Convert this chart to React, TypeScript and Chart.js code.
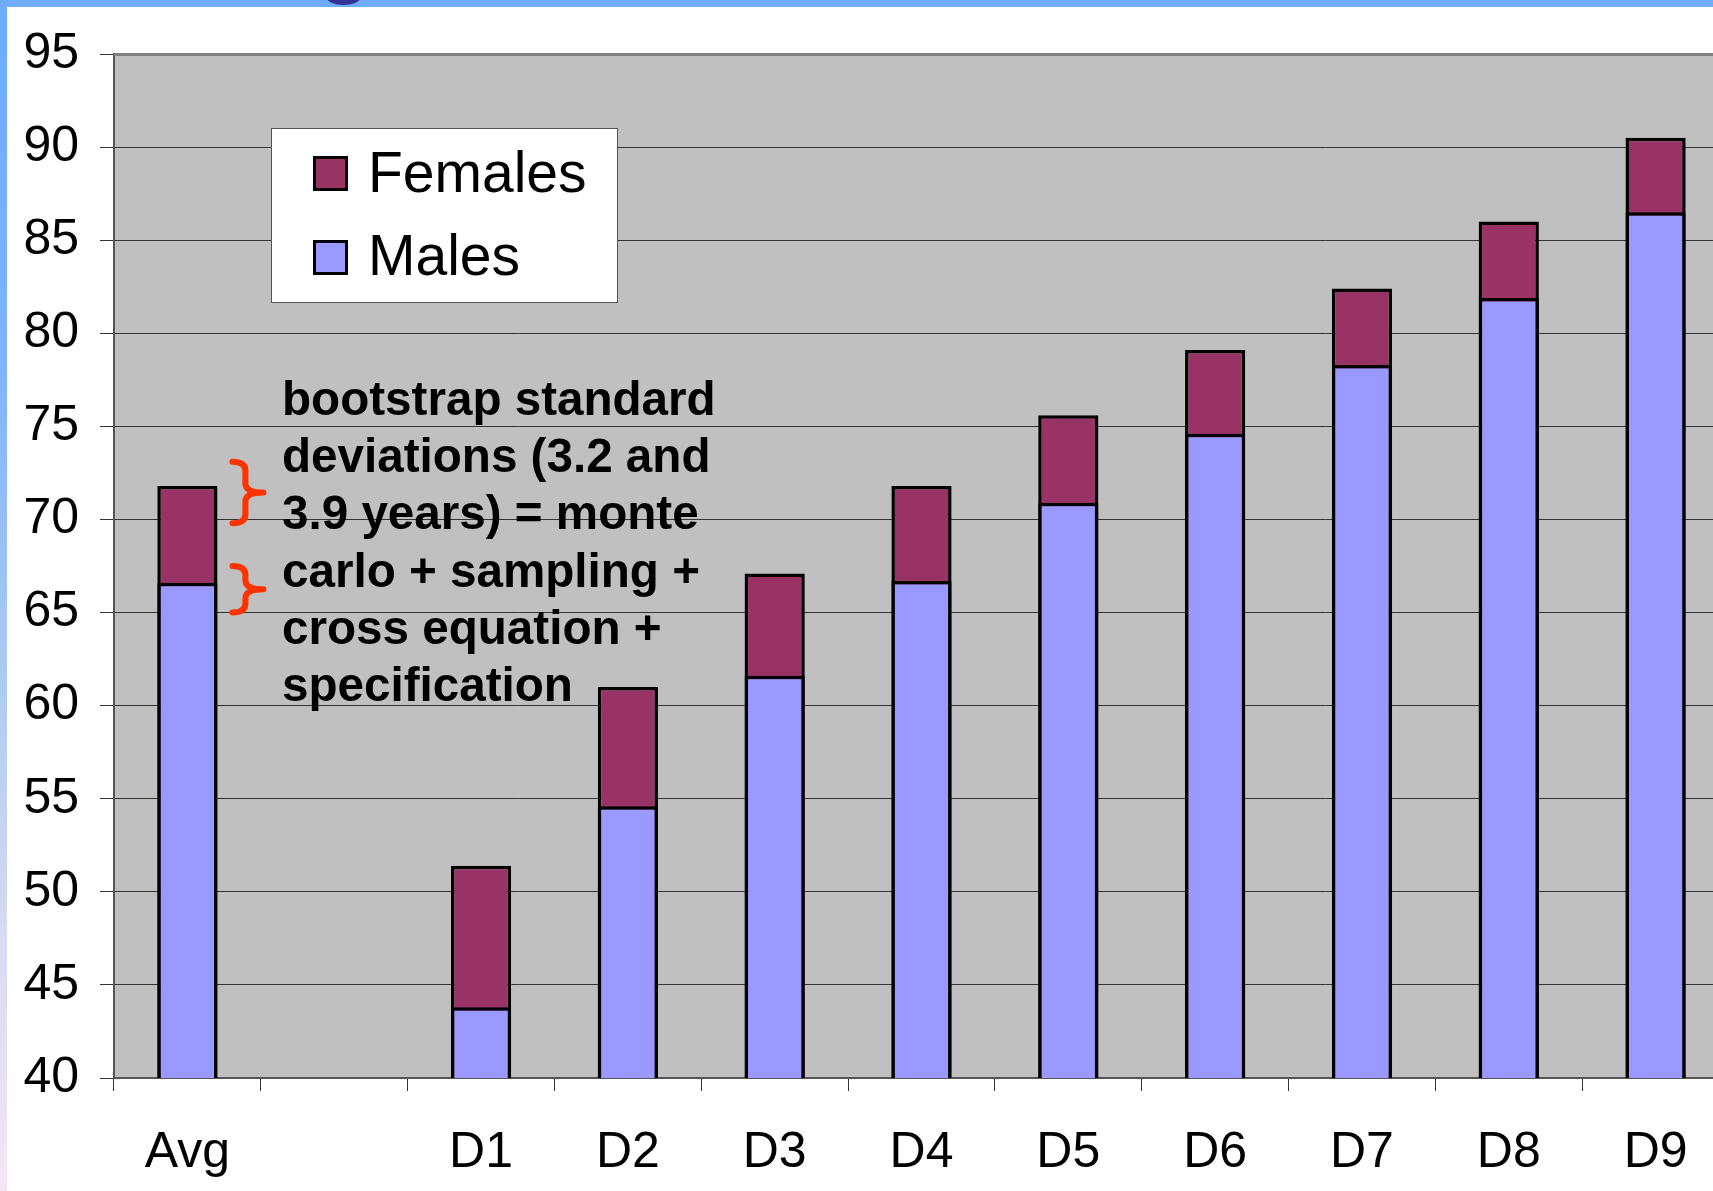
import React, { useEffect, useRef } from "react";
import { Chart, registerables } from "chart.js";

Chart.register(...registerables);

// ---- data ----
const categories = ["Avg", "", "D1", "D2", "D3", "D4", "D5", "D6", "D7", "D8", "D9"];
const femaleValues: (number | null)[] = [71.8, null, 51.4, 61.0, 67.1, 71.8, 75.6, 79.1, 82.4, 86.0, 90.5];
const maleValues: (number | null)[] = [66.6, null, 43.8, 54.6, 61.6, 66.7, 70.9, 74.6, 78.3, 81.9, 86.5];
const yMin = 40;
const yMax = 95;
const yStep = 5;
const legendLabels = ["Females", "Males"];
const annotationLines = [
  "bootstrap standard",
  "deviations (3.2 and",
  "3.9 years) = monte",
  "carlo + sampling +",
  "cross equation +",
  "specification",
];
// brace spans (top value, bottom value) next to the Avg bar
const braceSpans: [number, number][] = [
  [73.1, 69.8],
  [67.5, 65.0],
];

const FEMALE = "#993366";
const MALE = "#9999ff";
const FONT = "'Liberation Sans', Arial, Helvetica, sans-serif";

const plotPlugin = {
  id: "plotDecor",
  beforeDraw(chart: any) {
    const { ctx, chartArea: a } = chart;
    ctx.save();
    ctx.fillStyle = "#c0c0c0";
    ctx.fillRect(a.left, a.top, a.right - a.left, a.bottom - a.top);
    ctx.restore();
  },
  afterDraw(chart: any) {
    const { ctx, chartArea: a } = chart;
    ctx.save();
    ctx.strokeStyle = "#808080";
    ctx.lineWidth = 3;
    ctx.beginPath();
    ctx.moveTo(a.left, a.top + 0.5);
    ctx.lineTo(a.right, a.top + 0.5);
    ctx.stroke();

    // red braces
    const xs = chart.scales.x;
    const ys = chart.scales.y;
    const cx = xs.getPixelForValue(0);
    const x0 = cx + 45;
    const x1 = cx + 58;
    const x2 = cx + 76;
    ctx.strokeStyle = "#ff3300";
    ctx.lineWidth = 6;
    ctx.lineCap = "round";
    ctx.lineJoin = "round";
    for (const [t, b] of braceSpans) {
      const top = ys.getPixelForValue(t);
      const bot = ys.getPixelForValue(b);
      const mid = (top + bot) / 2;
      const r = 9;
      ctx.beginPath();
      ctx.moveTo(x0, top);
      ctx.quadraticCurveTo(x1, top, x1, top + r);
      ctx.lineTo(x1, mid - r);
      ctx.quadraticCurveTo(x1, mid, x2, mid);
      ctx.quadraticCurveTo(x1, mid, x1, mid + r);
      ctx.lineTo(x1, bot - r);
      ctx.quadraticCurveTo(x1, bot, x0, bot);
      ctx.stroke();
    }
    ctx.restore();
  },
};

export default function App() {
  const ref = useRef<HTMLCanvasElement | null>(null);

  useEffect(() => {
    document.body.style.margin = "0";
    if (!ref.current) return;
    const chart = new Chart(ref.current, {
      type: "bar",
      data: {
        labels: categories,
        datasets: [
          {
            label: legendLabels[1],
            data: maleValues,
            backgroundColor: MALE,
            borderColor: "#000",
            borderWidth: 3.5,
            borderSkipped: "start",
            grouped: false,
            order: 0,
            barPercentage: 0.41,
            categoryPercentage: 1,
          } as any,
          {
            label: legendLabels[0],
            data: femaleValues,
            backgroundColor: FEMALE,
            borderColor: "#000",
            borderWidth: 3.5,
            borderSkipped: "start",
            grouped: false,
            order: 1,
            barPercentage: 0.41,
            categoryPercentage: 1,
          } as any,
        ],
      },
      options: {
        responsive: false,
        animation: false,
        events: [],
        layout: { padding: { top: 54, left: 0, right: 1, bottom: 0 } },
        plugins: { legend: { display: false }, tooltip: { enabled: false } },
        scales: {
          x: {
            offset: true,
            grid: {
              offset: true,
              drawOnChartArea: false,
              drawTicks: true,
              tickLength: 13,
              color: "#333",
              tickColor: "#333",
            },
            border: { display: true, color: "#555", width: 2 },
            ticks: {
              color: "#000",
              font: { family: FONT, size: 50 },
              padding: 32,
              maxRotation: 0,
              autoSkip: false,
            },
            afterFit(scale: any) {
              scale.height = 113;
            },
          },
          y: {
            min: yMin,
            max: yMax,
            grid: {
              color: "#333",
              tickColor: "#333",
              lineWidth: 1,
              drawTicks: true,
              tickLength: 14,
            },
            border: { display: true, color: "#555", width: 2 },
            ticks: {
              stepSize: yStep,
              color: "#000",
              font: { family: FONT, size: 50 },
              padding: 21,
            },
            afterFit(scale: any) {
              scale.width = 114;
            },
          },
        },
      },
      plugins: [plotPlugin],
    });
    return () => chart.destroy();
  }, []);

  return (
    <div
      style={{
        position: "relative",
        width: 1713,
        height: 1191,
        overflow: "hidden",
        background: "#fff",
        fontFamily: FONT,
      }}
    >
      <canvas
        ref={ref}
        width={1730}
        height={1191}
        style={{ position: "absolute", left: 0, top: 0, width: 1730, height: 1191 }}
      />
      {/* slide frame */}
      <div style={{ position: "absolute", left: 0, top: 0, width: 1713, height: 7, background: "#6fabff" }} />
      <div
        style={{
          position: "absolute",
          left: 0,
          top: 0,
          width: 7,
          height: 1191,
          background: "linear-gradient(to bottom, #6fabff 0%, #7fb3fb 30%, #a9c9f1 55%, #d6daf2 78%, #f5e6f6 100%)",
        }}
      />
      <div
        style={{
          position: "absolute",
          left: 327,
          top: -9,
          width: 33,
          height: 14,
          borderRadius: "50%",
          background: "#333399",
        }}
      />
      {/* legend */}
      <div
        style={{
          position: "absolute",
          left: 271,
          top: 128,
          width: 347,
          height: 175,
          boxSizing: "border-box",
          background: "#fff",
          border: "1.5px solid #555",
        }}
      />
      {[FEMALE, MALE].map((c, i) => (
        <div
          key={"sq" + i}
          style={{
            position: "absolute",
            left: 313,
            top: i === 0 ? 156 : 240,
            width: 35,
            height: 35,
            boxSizing: "border-box",
            background: c,
            border: "3px solid #000",
          }}
        />
      ))}
      {legendLabels.map((t, i) => (
        <div
          key={"lg" + i}
          style={{
            position: "absolute",
            left: 368,
            top: i === 0 ? 144 : 227,
            fontSize: 57,
            lineHeight: 1,
            color: "#000",
            whiteSpace: "pre",
          }}
        >
          {t}
        </div>
      ))}
      {/* annotation */}
      <div
        style={{
          position: "absolute",
          left: 282,
          top: 370,
          fontSize: 47.6,
          lineHeight: "57.2px",
          fontWeight: "bold",
          color: "#000",
          whiteSpace: "pre",
        }}
      >
        {annotationLines.join("\n")}
      </div>
    </div>
  );
}
